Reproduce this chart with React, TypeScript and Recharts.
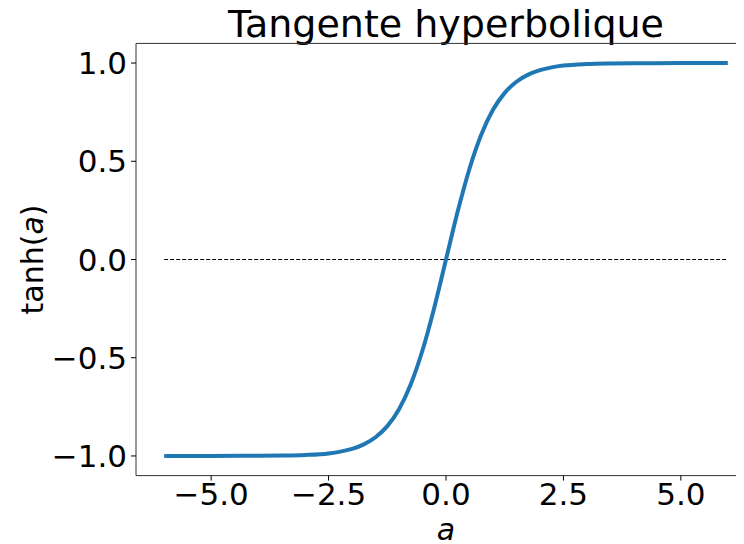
import { Line, LineChart, ReferenceLine, XAxis, YAxis } from "recharts";

// tanh(a), a from -6 to 6
const aValues = [
  -6, -5, -4, -3.5, -3, -2.5, -2.25, -2, -1.75, -1.5, -1.25, -1, -0.75, -0.5,
  -0.25, 0, 0.25, 0.5, 0.75, 1, 1.25, 1.5, 1.75, 2, 2.25, 2.5, 3, 3.5, 4, 5, 6,
];
const tanhValues = [
  -1.0, -1.0, -0.999, -0.998, -0.995, -0.987, -0.978, -0.964, -0.941, -0.905,
  -0.848, -0.762, -0.635, -0.462, -0.245, 0, 0.245, 0.462, 0.635, 0.762, 0.848,
  0.905, 0.941, 0.964, 0.978, 0.987, 0.995, 0.998, 0.999, 1.0, 1.0,
];
const zeroLineA = [-6, 6];
const zeroLineY = [0, 0];
const xTicks = [-5, -2.5, 0, 2.5, 5];
const yTicks = [-1, -0.5, 0, 0.5, 1];

const curve = aValues.map((a, i) => ({ a, y: tanhValues[i] }));
const zeroLine = zeroLineA.map((a, i) => ({ a, y: zeroLineY[i] }));

const font = "'DejaVu Sans', sans-serif";
const tickStyle = { fontSize: 31, fill: "#000", fontFamily: font };
const fmt = (v: number) => v.toFixed(1).replace("-", "\u2212");

export default function App() {
  return (
    <div style={{ position: "relative", marginLeft: -8, marginTop: -8, width: 744, height: 544, overflow: "hidden", background: "#fff" }}>
      <div
        style={{
          position: "absolute",
          left: 446 - 300,
          width: 600,
          top: 0,
          textAlign: "center",
          fontFamily: font,
          fontSize: 38,
          lineHeight: "48px",
          color: "#000",
        }}
      >
        Tangente hyperbolique
      </div>
      <LineChart
        width={780}
        height={544}
        margin={{ top: 43.4, right: 24, left: 0, bottom: 0 }}
        style={{ position: "absolute", left: 0, top: 0 }}
      >
        <XAxis
          dataKey="a"
          type="number"
          domain={[-6.6, 6.6]}
          ticks={xTicks}
          allowDataOverflow
          tickFormatter={fmt}
          tick={tickStyle}
          tickSize={5}
          tickMargin={2}
          height={68.4}
          stroke="#000"
          axisLine={{ stroke: "#333", strokeWidth: 1 }}
          label={({ viewBox }: any) => (
            <text
              x={viewBox.x + viewBox.width / 2}
              y={540}
              textAnchor="middle"
              fontFamily={font}
              fontSize={30}
              fontStyle="italic"
              fill="#000"
            >
              a
            </text>
          )}
        />
        <YAxis
          type="number"
          domain={[-1.1, 1.1]}
          ticks={yTicks}
          allowDataOverflow
          tickFormatter={fmt}
          tick={tickStyle}
          tickSize={5}
          tickMargin={4}
          width={136}
          stroke="#000"
          axisLine={{ stroke: "#333", strokeWidth: 1 }}
          label={({ viewBox }: any) => {
            const cy = viewBox.y + viewBox.height / 2;
            return (
              <text
                x={43}
                y={cy}
                transform={`rotate(-90, 43, ${cy})`}
                textAnchor="middle"
                fontFamily={font}
                fontSize={30}
                fill="#000"
              >
                tanh(<tspan fontStyle="italic">a</tspan>)
              </text>
            );
          }}
        />
        <ReferenceLine y={1.1} stroke="#333" strokeWidth={1} />
        <ReferenceLine x={6.6} stroke="#333" strokeWidth={1} />
        <Line
          data={zeroLine}
          dataKey="y"
          type="linear"
          stroke="#000"
          strokeWidth={1}
          strokeDasharray="4 2"
          dot={false}
          isAnimationActive={false}
        />
        <Line
          data={curve}
          dataKey="y"
          type="monotone"
          stroke="#1f77b4"
          strokeWidth={4}
          dot={false}
          isAnimationActive={false}
        />
      </LineChart>
    </div>
  );
}
